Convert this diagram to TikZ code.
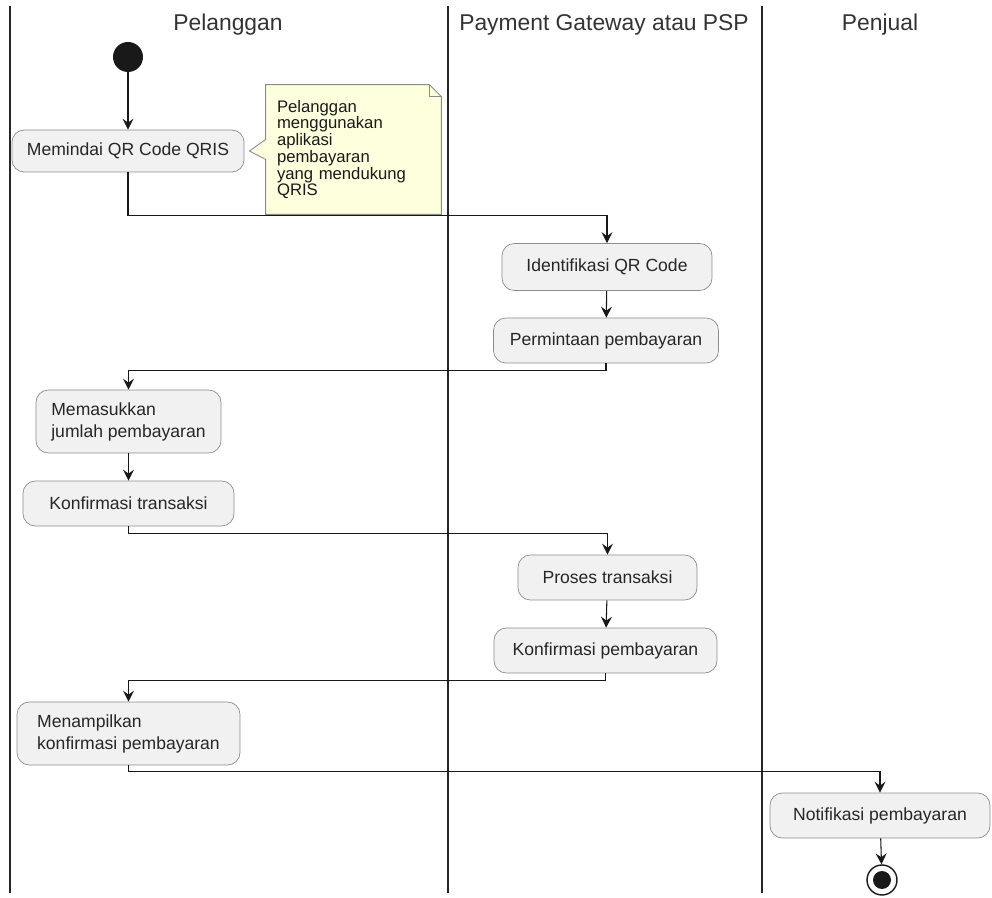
\documentclass[tikz,border=0pt]{standalone}
\usepackage{fontspec}
\setmainfont{Liberation Sans}
\usetikzlibrary{shapes,arrows.meta,positioning,calc,backgrounds}
\definecolor{actfill}{HTML}{F1F1F1}
\definecolor{notefill}{HTML}{FEFFDD}
\definecolor{edgegray}{HTML}{181818}
\tikzstyle{activity} = [rectangle, draw=black!45, fill=actfill, rounded corners=7pt,
    minimum height=0.9cm, inner xsep=0.3cm, align=left, text=black!85,
    font=\fontsize{10}{12.5}\selectfont]
\tikzstyle{notetext} = [rectangle, text width=3.06cm, minimum height=2.58cm,
    inner xsep=0.22cm, inner ysep=0pt, align=left, text=black!90,
    font=\fontsize{9.5}{9.5}\selectfont]
\tikzstyle{notebox} = [draw=black!45, fill=notefill, line width=0.5pt]
\tikzstyle{lane} = [draw=black!85, line width=1.1pt]
\tikzstyle{title} = [font=\fontsize{13}{15}\selectfont, text=black!80]
\tikzstyle{flow} = [draw=edgegray, line width=0.6pt,
    -{Stealth[length=2.2mm,width=2.2mm,inset=0.8mm]}]

\begin{document}
\begin{tikzpicture}[x=0.02cm, y=-0.02cm]
  \useasboundingbox (0,0) rectangle (992,898);
  % Swimlanes
  \foreach \lx in {10,448,762}
    \draw [lane] (\lx,6) -- (\lx,893);
  \node [title] (laneA) at (228,25) {Pelanggan};
  \node [title] (laneB) at (604,25) {Payment Gateway atau PSP};
  \node [title] (laneC) at (880,25) {Penjual};
  % Place nodes
  \node [circle, fill=black!90, minimum size=0.6cm, inner sep=0] (start) at (128,57) {};
  \node [activity, minimum width=4.46cm, minimum height=0.84cm] (scan) at (128,151)
  {Memindai QR Code QRIS};
  \node [notetext] (note) at (353.5,149.5)
  {Pelanggan\\menggunakan\\aplikasi\\pembayaran\\yang mendukung\\QRIS};
  \node [activity, minimum width=4.2cm, minimum height=0.94cm] (identify) at (607,267)
  {Identifikasi QR Code};
  \node [activity, minimum width=4.5cm] (request) at (606,340.5)
  {Permintaan pembayaran};
  \node [activity, minimum width=3.7cm, minimum height=1.26cm] (amount) at (128.5,421.5)
  {Memasukkan\\jumlah pembayaran};
  \node [activity, minimum width=4.22cm] (confirm) at (128.5,503.5)
  {Konfirmasi transaksi};
  \node [activity, minimum width=3.58cm] (process) at (607.5,577.5)
  {Proses transaksi};
  \node [activity, minimum width=4.46cm] (payconf) at (605.5,650.5)
  {Konfirmasi pembayaran};
  \node [activity, minimum width=4.46cm, minimum height=1.26cm] (display) at (128.5,733.5)
  {Menampilkan\\konfirmasi pembayaran};
  \node [activity, minimum width=4.4cm] (notify) at (880,815.5)
  {Notifikasi pembayaran};
  \node [circle, draw=black!90, line width=0.8pt, fill=white, minimum size=0.6cm,
  inner sep=0, path picture={\fill[black!90] (path picture bounding box.center)
  circle (0.18cm);}] (finish) at (882,880) {};
  % Note outline
  \begin{scope}[on background layer]
    \draw [notebox] (note.north west) -- ($(note.north east)+(-12,0)$)
      -- ($(note.north east)+(0,12)$) -- (note.south east) -- (note.south west)
      -- ($(note.west)+(0,10)$) -- ($(scan.east)+(5,0)$)
      -- ($(note.west)+(0,-10)$) -- cycle;
    \draw [notebox, fill=none] ($(note.north east)+(-12,0)$)
      -- ($(note.north east)+(-12,12)$) -- ($(note.north east)+(0,12)$);
  \end{scope}
  % Draw edges
  \draw [flow] (start) -- (scan);
  \draw [flow] (scan.south) -- ++(0,43) -| (identify.north);
  \draw [flow] (identify) -- (request);
  \draw [flow] (request.south) -- ++(0,7) -| (amount.north);
  \draw [flow] (amount) -- (confirm);
  \draw [flow] (confirm.south) -- ++(0,7) -| (process.north);
  \draw [flow] (process) -- (payconf);
  \draw [flow] (payconf.south) -- ++(0,7) -| (display.north);
  \draw [flow] (display.south) -- ++(0,6) -| (notify.north);
  \draw [flow] (notify) -- (finish);
\end{tikzpicture}
\end{document}
